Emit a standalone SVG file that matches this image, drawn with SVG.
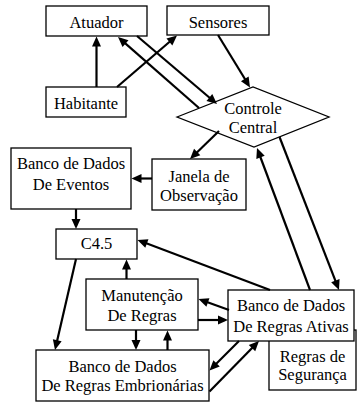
<svg xmlns="http://www.w3.org/2000/svg" xmlns:xlink="http://www.w3.org/1999/xlink" width="357" height="403" viewBox="0 0 357 403">
<style>
.box{fill:#fff;stroke:#000;stroke-width:1.3}
.t{font-family:'Liberation Serif',serif;font-size:16.5px;fill:#000;text-anchor:middle}
.c line{stroke:#000;stroke-width:2.2}
.c use{fill:#000}
</style>
<defs>
<path id="ah" d="M0,0 L-10,-4.5 L-10,4.5 z"/>
</defs>
<rect width="357" height="403" fill="#fff"/>
<g id="atuador"><rect class="box" x="46" y="6" width="101" height="30"/><text class="t" font-family="Liberation Serif" x="96.5" y="28">Atuador</text></g>
<g id="sensores"><rect class="box" x="167" y="6" width="102" height="29"/><text class="t" font-family="Liberation Serif" x="218" y="28">Sensores</text></g>
<g id="habitante"><rect class="box" x="46" y="87" width="80" height="30"/><text class="t" font-family="Liberation Serif" x="86" y="109">Habitante</text></g>
<g id="controle"><polygon class="box" points="177,117 253,87 329,117 254,147"/><text class="t" font-family="Liberation Serif" x="253" y="114">Controle</text><text class="t" font-family="Liberation Serif" x="253" y="133">Central</text></g>
<g id="eventos"><rect class="box" x="11" y="148" width="120" height="61"/><text class="t" font-family="Liberation Serif" x="71" y="169">Banco de Dados</text><text class="t" font-family="Liberation Serif" x="71" y="190">De Eventos</text></g>
<g id="janela"><rect class="box" x="152" y="159" width="94" height="51"/><text class="t" font-family="Liberation Serif" x="199" y="181.5">Janela de</text><text class="t" font-family="Liberation Serif" x="199" y="201">Observação</text></g>
<g id="c45"><rect class="box" x="56" y="229" width="81" height="30"/><text class="t" font-family="Liberation Serif" x="96.5" y="249">C4.5</text></g>
<g id="manutencao"><rect class="box" x="86" y="279" width="112" height="51"/><text class="t" font-family="Liberation Serif" x="142" y="301">Manutenção</text><text class="t" font-family="Liberation Serif" x="142" y="321">De Regras</text></g>
<g id="seguranca"><rect class="box" x="269" y="330" width="87" height="60"/><text class="t" font-family="Liberation Serif" x="312.5" y="361.5">Regras de</text><text class="t" font-family="Liberation Serif" x="312.5" y="380">Segurança</text></g>
<g id="ativas"><rect class="box" x="228" y="290" width="126" height="51"/><text class="t" font-family="Liberation Serif" x="291" y="311">Banco de Dados</text><text class="t" font-family="Liberation Serif" x="291" y="332">De Regras Ativas</text></g>
<g id="embrionarias"><rect class="box" x="36" y="350" width="173" height="51"/><text class="t" font-family="Liberation Serif" x="122.5" y="372">Banco de Dados</text><text class="t" font-family="Liberation Serif" x="122.5" y="391">De Regras Embrionárias</text></g>
<g id="connectors" class="c">
<line x1="96.5" y1="87" x2="96.5" y2="40"/><use xlink:href="#ah" href="#ah" transform="translate(96.5,36.5) rotate(-90)"/>
<line x1="117" y1="87" x2="174" y2="38"/><use xlink:href="#ah" href="#ah" transform="translate(177,35.5) rotate(-40.64)"/>
<line x1="199" y1="108" x2="121" y2="39.6"/><use xlink:href="#ah" href="#ah" transform="translate(118,37) rotate(-138.77)"/>
<line x1="137" y1="36" x2="214" y2="101.5"/><use xlink:href="#ah" href="#ah" transform="translate(217,104) rotate(40.36)"/>
<line x1="218" y1="35" x2="248" y2="84"/><use xlink:href="#ah" href="#ah" transform="translate(250,87.5) rotate(58.63)"/>
<line x1="219" y1="131" x2="193" y2="156.2"/><use xlink:href="#ah" href="#ah" transform="translate(190,159) rotate(136)"/>
<line x1="152" y1="178.5" x2="135" y2="178.5"/><use xlink:href="#ah" href="#ah" transform="translate(131.5,178.5) rotate(180)"/>
<line x1="76" y1="209" x2="76" y2="225.5"/><use xlink:href="#ah" href="#ah" transform="translate(76,229) rotate(90)"/>
<line x1="270" y1="290" x2="141" y2="241.3"/><use xlink:href="#ah" href="#ah" transform="translate(137.5,240) rotate(-159.33)"/>
<line x1="279.5" y1="137" x2="337.7" y2="286.7"/><use xlink:href="#ah" href="#ah" transform="translate(339,290) rotate(68.75)"/>
<line x1="310" y1="290" x2="258.3" y2="151.5"/><use xlink:href="#ah" href="#ah" transform="translate(257,148) rotate(-110.47)"/>
<line x1="76" y1="259" x2="55.8" y2="346.5"/><use xlink:href="#ah" href="#ah" transform="translate(55,350) rotate(103)"/>
<line x1="126.5" y1="279" x2="126.5" y2="263"/><use xlink:href="#ah" href="#ah" transform="translate(126.5,259.5) rotate(-90)"/>
<line x1="229" y1="310" x2="202" y2="300.2"/><use xlink:href="#ah" href="#ah" transform="translate(198.5,299) rotate(-160.17)"/>
<line x1="198" y1="320" x2="224.5" y2="320"/><use xlink:href="#ah" href="#ah" transform="translate(228,320) rotate(0)"/>
<line x1="136" y1="330" x2="136" y2="346.5"/><use xlink:href="#ah" href="#ah" transform="translate(136,350) rotate(90)"/>
<line x1="167.5" y1="350" x2="167.5" y2="334"/><use xlink:href="#ah" href="#ah" transform="translate(167.5,330.5) rotate(-90)"/>
<line x1="239" y1="341" x2="212" y2="368"/><use xlink:href="#ah" href="#ah" transform="translate(209.5,370.5) rotate(135)"/>
<line x1="209.5" y1="391.5" x2="256.5" y2="343.5"/><use xlink:href="#ah" href="#ah" transform="translate(259,341) rotate(-45.57)"/>
</g>
</svg>
